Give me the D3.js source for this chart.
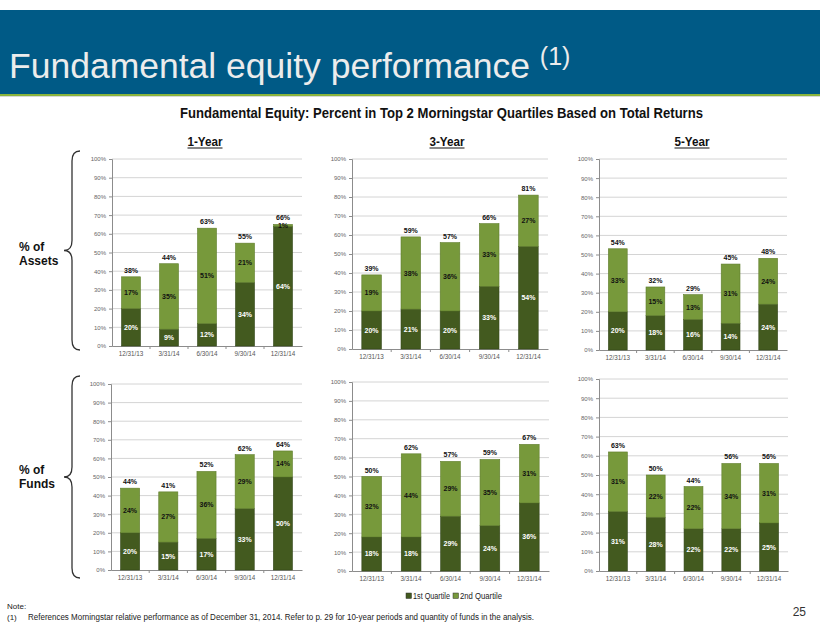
<!DOCTYPE html>
<html>
<head>
<meta charset="utf-8">
<script src="https://d3js.org/d3.v7.min.js"></script>
<style>
  body { margin: 0; background: #fff; }
  svg { display: block; }
  text { font-family: "Liberation Sans", Arial, sans-serif; }
  .narrow { font-family: "Liberation Sans Narrow", "Arial Narrow", "Liberation Sans", sans-serif; }
</style>
</head>
<body>
<svg id="my-svg"></svg>
<script>
// data
const dates = ['12/31/13', '3/31/14', '6/30/14', '9/30/14', '12/31/14'];
const yTicks = [0, 10, 20, 30, 40, 50, 60, 70, 80, 90, 100];
const periods = ['1-Year', '3-Year', '5-Year'];
const rowNames = [['% of', 'Assets'], ['% of', 'Funds']];
const legendNames = ['1st Quartile', '2nd Quartile'];

const assets1Q1 = [20, 9, 12, 34, 64];
const assets1Q2 = [17, 35, 51, 21, 1];
const assets1Tot = [38, 44, 63, 55, 66];

const assets3Q1 = [20, 21, 20, 33, 54];
const assets3Q2 = [19, 38, 36, 33, 27];
const assets3Tot = [39, 59, 57, 66, 81];

const assets5Q1 = [20, 18, 16, 14, 24];
const assets5Q2 = [33, 15, 13, 31, 24];
const assets5Tot = [54, 32, 29, 45, 48];

const funds1Q1 = [20, 15, 17, 33, 50];
const funds1Q2 = [24, 27, 36, 29, 14];
const funds1Tot = [44, 41, 52, 62, 64];

const funds3Q1 = [18, 18, 29, 24, 36];
const funds3Q2 = [32, 44, 29, 35, 31];
const funds3Tot = [50, 62, 57, 59, 67];

const funds5Q1 = [31, 28, 22, 22, 25];
const funds5Q2 = [31, 22, 22, 34, 31];
const funds5Tot = [63, 50, 44, 56, 56];

const darkGreen = '#435a1f';
const lightGreen = '#77993b';

let svg = d3.select('#my-svg')
      .attr('width', 820)
      .attr('height', 635);

// header band
svg.append('rect').attr('x', 0).attr('y', 10).attr('width', 820).attr('height', 84).attr('fill', '#005a86');
svg.append('rect').attr('x', 0).attr('y', 94).attr('width', 820).attr('height', 2).attr('fill', '#8ab43c');
svg.append('rect').attr('x', 0).attr('y', 96).attr('width', 820).attr('height', 1).attr('fill', '#d8d8d8');

let title = svg.append('text')
      .attr('x', 9).attr('y', 78)
      .attr('fill', '#ececec')
      .attr('font-size', 35.5);
title.append('tspan').text('Fundamental equity performance ');
title.append('tspan').attr('font-size', 25).attr('dy', -13).text('(1)');

svg.append('text')
      .attr('class', 'narrow')
      .attr('x', 180).attr('y', 118)
      .attr('font-size', 15).attr('font-weight', 'bold')
      .attr('textLength', 523).attr('lengthAdjust', 'spacingAndGlyphs')
      .attr('fill', '#111')
      .text('Fundamental Equity: Percent in Top 2 Morningstar Quartiles Based on Total Returns');

// column headers
const headerX = [205, 447, 692];
periods.forEach((p, i) => {
    svg.append('text')
          .attr('class', 'narrow')
          .attr('x', headerX[i] - 17.5).attr('y', 146)
          .attr('font-size', 13).attr('font-weight', 'bold')
          .attr('textLength', 35).attr('lengthAdjust', 'spacingAndGlyphs')
          .attr('fill', '#111')
          .text(p);
    svg.append('line')
          .attr('x1', headerX[i] - 17.5).attr('x2', headerX[i] + 17.5)
          .attr('y1', 148).attr('y2', 148)
          .attr('stroke', '#111').attr('stroke-width', 1);
});

// braces and row labels
function brace(yTop, yBot){
    let yMid = (yTop + yBot) / 2;
    let path = d3.path();
    path.moveTo(80, yTop);
    path.quadraticCurveTo(72, yTop, 72, yTop + 10);
    path.lineTo(72, yMid - 10);
    path.quadraticCurveTo(72, yMid, 64, yMid);
    path.quadraticCurveTo(72, yMid, 72, yMid + 10);
    path.lineTo(72, yBot - 10);
    path.quadraticCurveTo(72, yBot, 80, yBot);
    svg.append('path').attr('d', path.toString())
          .attr('fill', 'none').attr('stroke', '#333').attr('stroke-width', 1.3);
}
brace(151, 350);
brace(376, 578);

const rowLabelY = [251, 474];
rowNames.forEach((r, i) => {
    r.forEach((s, j) => {
        svg.append('text')
              .attr('x', 19).attr('y', rowLabelY[i] + j * 13.5)
              .attr('font-size', 12).attr('font-weight', 'bold')
              .attr('fill', '#111')
              .text(s);
    });
});

// one stacked bar chart
function barChart(x0, x1, yTop, yBot, q1, q2, tot){
    let x = d3.scaleBand().domain(dates).range([x0, x1]).paddingInner(0.5).paddingOuter(0.25);
    let y = d3.scaleLinear().domain([0, 100]).range([yBot, yTop]);
    let g = svg.append('g');

    g.selectAll('line.grid')
          .data(yTicks.slice(1))
          .enter().append('line')
            .attr('class', 'grid')
            .attr('x1', x0).attr('x2', x1)
            .attr('y1', d => y(d)).attr('y2', d => y(d))
            .attr('stroke', '#d4d4d4').attr('stroke-width', 1);

    let yAxis = g.append('g')
          .attr('transform', `translate(${x0},0)`)
          .call(d3.axisLeft(y).tickValues(yTicks).tickSize(3).tickFormat(d => d + '%'));
    yAxis.select('.domain').attr('stroke', '#8c8c8c');
    yAxis.selectAll('.tick line').attr('stroke', '#8c8c8c');
    yAxis.selectAll('text').attr('font-size', 6).attr('fill', '#666').attr('font-family', '"Liberation Sans", Arial, sans-serif');

    let step = x.step();
    let xAxis = g.append('g')
          .attr('transform', `translate(0,${yBot})`)
          .call(d3.axisBottom(x).tickSize(0).tickPadding(6));
    xAxis.select('.domain').attr('stroke', '#8c8c8c');
    xAxis.selectAll('text').attr('font-size', 6.3).attr('fill', '#555').attr('font-family', '"Liberation Sans", Arial, sans-serif');
    g.selectAll('line.xtick')
          .data(dates.slice(1))
          .enter().append('line')
            .attr('class', 'xtick')
            .attr('x1', d => x(d) - step * 0.25).attr('x2', d => x(d) - step * 0.25)
            .attr('y1', yBot).attr('y2', yBot + 3)
            .attr('stroke', '#8c8c8c');

    let rows = dates.map((d, i) => ({ d, q1: q1[i], q2: q2[i], tot: tot[i] }));

    g.selectAll('rect.q1')
          .data(rows)
          .enter().append('rect')
            .attr('class', 'q1')
            .attr('x', d => x(d.d))
            .attr('width', x.bandwidth())
            .attr('y', d => y(d.q1))
            .attr('height', d => y(0) - y(d.q1))
            .attr('fill', darkGreen)
            .attr('stroke', '#33461a').attr('stroke-width', 0.6);

    g.selectAll('rect.q2')
          .data(rows)
          .enter().append('rect')
            .attr('class', 'q2')
            .attr('x', d => x(d.d))
            .attr('width', x.bandwidth())
            .attr('y', d => y(d.q1 + d.q2))
            .attr('height', d => y(d.q1) - y(d.q1 + d.q2))
            .attr('fill', lightGreen)
            .attr('stroke', '#5f7d2c').attr('stroke-width', 0.6);

    let cx = d => x(d.d) + x.bandwidth() / 2;

    g.selectAll('text.l1')
          .data(rows)
          .enter().append('text')
            .attr('class', 'l1')
            .attr('x', cx)
            .attr('y', d => y(d.q1 / 2) + 2.5)
            .attr('text-anchor', 'middle')
            .attr('font-size', 7).attr('font-weight', 'bold')
            .attr('fill', '#fff')
            .text(d => d.q1 + '%');

    g.selectAll('text.l2')
          .data(rows)
          .enter().append('text')
            .attr('class', 'l2')
            .attr('x', cx)
            .attr('y', d => y(d.q1 + d.q2 / 2) + 2.5)
            .attr('text-anchor', 'middle')
            .attr('font-size', 7).attr('font-weight', 'bold')
            .attr('fill', '#111')
            .text(d => d.q2 + '%');

    g.selectAll('text.tot')
          .data(rows)
          .enter().append('text')
            .attr('class', 'tot')
            .attr('x', cx)
            .attr('y', d => y(d.q1 + d.q2) - 4)
            .attr('text-anchor', 'middle')
            .attr('font-size', 7).attr('font-weight', 'bold')
            .attr('fill', '#111')
            .text(d => d.tot + '%');
}

barChart(112, 302, 159, 346, assets1Q1, assets1Q2, assets1Tot);
barChart(352, 548, 159, 349, assets3Q1, assets3Q2, assets3Tot);
barChart(599, 787, 159, 350, assets5Q1, assets5Q2, assets5Tot);
barChart(111, 302, 384, 570, funds1Q1, funds1Q2, funds1Tot);
barChart(352, 549, 382, 571, funds3Q1, funds3Q2, funds3Tot);
barChart(599, 788, 379, 571, funds5Q1, funds5Q2, funds5Tot);

// legend
let legend = svg.append('g').attr('transform', 'translate(406,599)');
let legendX = [0, 47];
let legendW = [37, 42];
legendNames.forEach((n, i) => {
    legend.append('rect')
          .attr('x', legendX[i]).attr('y', -6)
          .attr('width', 5.5).attr('height', 5.5)
          .attr('fill', i === 0 ? darkGreen : lightGreen)
          .attr('stroke', '#333').attr('stroke-width', 0.5);
    legend.append('text')
          .attr('class', 'narrow')
          .attr('x', legendX[i] + 7).attr('y', 0)
          .attr('font-size', 8.5).attr('fill', '#222')
          .attr('textLength', legendW[i]).attr('lengthAdjust', 'spacingAndGlyphs')
          .text(n);
});

// notes
svg.append('text').attr('class', 'narrow').attr('x', 7).attr('y', 609)
      .attr('font-size', 8).attr('fill', '#222').text('Note:');
svg.append('text').attr('class', 'narrow').attr('x', 7).attr('y', 620)
      .attr('font-size', 8).attr('fill', '#222').text('(1)');
svg.append('text').attr('class', 'narrow').attr('x', 28).attr('y', 620)
      .attr('font-size', 8.5).attr('fill', '#222')
      .attr('textLength', 506).attr('lengthAdjust', 'spacingAndGlyphs')
      .text('References Morningstar relative performance as of December 31, 2014. Refer to p. 29 for 10-year periods and quantity of funds in the analysis.');
svg.append('text').attr('x', 806).attr('y', 616)
      .attr('text-anchor', 'end')
      .attr('font-size', 12).attr('fill', '#333').text('25');
</script>
</body>
</html>
